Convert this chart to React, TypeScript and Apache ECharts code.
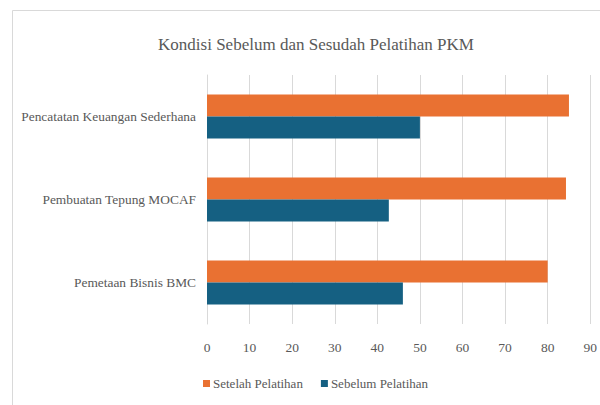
import React, { useEffect, useRef } from "react";
import * as echarts from "echarts";

const categories = [
  "Pemetaan Bisnis BMC",
  "Pembuatan Tepung MOCAF",
  "Pencatatan Keuangan Sederhana",
];
const setelahValues = [80, 84.3, 85];
const sebelumValues = [46, 42.7, 50];
const seriesNames = ["Setelah Pelatihan", "Sebelum Pelatihan"];
const colors = ["#E97132", "#156082"];

const FONT = "Liberation Serif";

export default function App() {
  const ref = useRef<HTMLDivElement>(null);
  useEffect(() => {
    if (!ref.current) return;
    const chart = echarts.init(ref.current, null, { renderer: "svg" });
    chart.setOption({
      animation: false,
      backgroundColor: "#ffffff",
      textStyle: { fontFamily: FONT },
      title: {
        text: "Kondisi Sebelum dan Sesudah Pelatihan PKM",
        left: 311,
        textAlign: "center",
        top: 31,
        textStyle: { fontFamily: FONT, fontSize: 17, fontWeight: "normal", color: "#595959" },
      },
      graphic: [
        {
          type: "rect",
          shape: { x: 12.5, y: 10.5, width: 620, height: 420 },
          style: { fill: "none", stroke: "#d9d9d9", lineWidth: 1 },
          silent: true,
        },
      ],
      legend: {
        bottom: 10,
        left: 198,
        itemWidth: 7,
        itemHeight: 7,
        itemGap: 18,
        icon: "rect",
        data: seriesNames,
        textStyle: { fontFamily: FONT, fontSize: 13, color: "#595959", padding: [0, 0, 0, -2] },
      },
      grid: { left: 207, right: 9, top: 75, bottom: 81, containLabel: false },
      xAxis: {
        type: "value",
        min: 0,
        max: 90,
        interval: 10,
        axisLine: { show: false },
        axisTick: { show: false },
        splitLine: { show: true, lineStyle: { color: "#d9d9d9", width: 1 } },
        axisLabel: { fontFamily: FONT, fontSize: 13.5, color: "#595959", margin: 16 },
      },
      yAxis: {
        type: "category",
        data: categories,
        axisLine: { show: true, lineStyle: { color: "#d9d9d9" } },
        axisTick: { show: false },
        axisLabel: { fontFamily: FONT, fontSize: 13.4, color: "#595959", margin: 11 },
      },
      series: [
        {
          name: seriesNames[0],
          type: "bar",
          data: setelahValues,
          itemStyle: { color: colors[0] },
          barGap: "0%",
          barCategoryGap: "47%",
        },
        {
          name: seriesNames[1],
          type: "bar",
          data: sebelumValues,
          itemStyle: { color: colors[1] },
          barGap: "0%",
          barCategoryGap: "47%",
        },
      ],
    });
    return () => chart.dispose();
  }, []);
  return (
    <div
      ref={ref}
      style={{ position: "fixed", left: 0, top: 0, width: 600, height: 405 }}
    />
  );
}
